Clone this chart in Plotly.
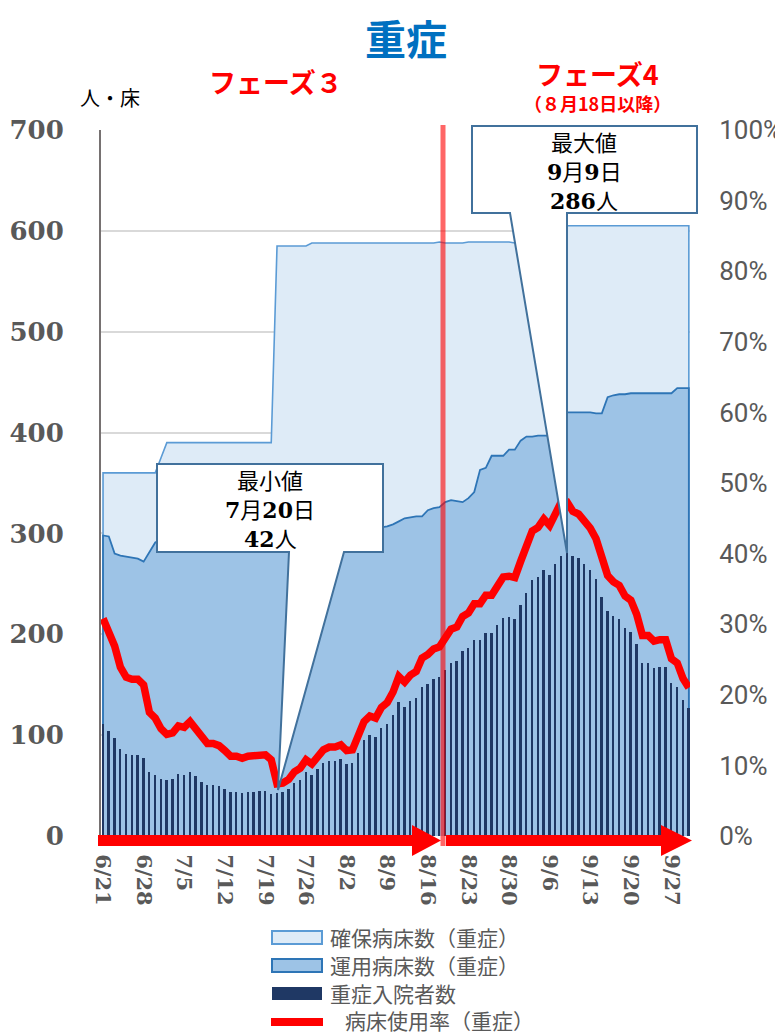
import plotly.graph_objects as go
import pandas as pd

# ---------------- data ----------------
dates = pd.date_range("2022-06-21", "2022-09-30", freq="D")
date_labels = [f"{d.month}/{d.day}" for d in dates]

tick_labels = ["6/21", "6/28", "7/5", "7/12", "7/19", "7/26", "8/2", "8/9",
               "8/16", "8/23", "8/30", "9/6", "9/13", "9/20", "9/27"]

# 確保病床数（重症）
secured_beds = [
    360, 360, 360, 360, 360, 360, 360, 360, 360, 360,
    375, 390, 390, 390, 390, 390, 390, 390, 390, 390,
    390, 390, 390, 390, 390, 390, 390, 390, 390, 390,
    585, 585, 585, 585, 585, 585, 588, 588, 588, 588,
    588, 588, 588, 588, 588, 588, 588, 588, 588, 588,
    588, 588, 588, 588, 588, 588, 588, 588, 589, 588,
    588, 588, 588, 589, 589, 589, 589, 589, 589, 589,
    589, 588, 588, 588, 588, 588, 588, 588, 588, 588,
    605, 605, 605, 605, 605, 605, 605, 605, 605, 605,
    605, 605, 605, 605, 605, 605, 605, 605, 605, 605,
    605, 605]

# 運用病床数（重症）
operating_beds = [
    298, 297, 280, 278, 277, 276, 275, 272, 281, 291,
    294, 296, 297, 298, 299, 300, 300, 300, 300, 300,
    300, 300, 300, 300, 300, 300, 300, 300, 300, 300,
    300, 301, 301, 302, 302, 302, 303, 303, 303, 304,
    304, 304, 305, 305, 305, 305, 306, 306, 306, 307,
    309, 312, 315, 316, 317, 317, 323, 325, 326, 331,
    333, 332, 331, 335, 341, 363, 365, 377, 377, 377,
    383, 383, 392, 396, 396, 397, 397, 397, 397, 398,
    420, 420, 420, 420, 420, 419, 419, 435, 437, 438,
    438, 439, 439, 439, 439, 439, 439, 439, 439, 444,
    444, 444]

# 重症入院者数
inpatients = [
    111, 104, 97, 86, 81, 80, 80, 77, 63, 60,
    57, 56, 57, 61, 60, 63, 59, 54, 51, 51,
    50, 47, 44, 44, 43, 44, 44, 45, 45, 42,
    43, 44, 47, 53, 56, 63, 60, 66, 72, 74,
    74, 76, 71, 72, 82, 95, 100, 98, 107, 111,
    120, 133, 128, 134, 137, 148, 151, 156, 158, 165,
    172, 174, 183, 186, 194, 194, 201, 201, 209, 216,
    217, 215, 229, 241, 254, 257, 264, 259, 270, 278,
    286, 278, 276, 270, 264, 255, 237, 223, 218, 215,
    206, 202, 190, 172, 172, 167, 168, 168, 152, 148,
    135, 127]

# 病床使用率（重症） %
usage_rate = [
    30.8, 28.9, 26.9, 23.9, 22.5, 22.2, 22.2, 21.4, 17.5, 16.7,
    15.2, 14.4, 14.6, 15.6, 15.4, 16.2, 15.1, 13.8, 13.1, 13.1,
    12.8, 12.1, 11.3, 11.3, 11.0, 11.3, 11.3, 11.5, 11.5, 10.8,
    7.4, 7.5, 8.0, 9.1, 9.6, 10.8, 10.2, 11.2, 12.2, 12.6,
    12.6, 12.9, 12.1, 12.2, 13.9, 16.2, 17.0, 16.7, 18.2, 18.9,
    20.4, 22.6, 21.8, 22.8, 23.3, 25.2, 25.7, 26.5, 26.8, 28.1,
    29.3, 29.6, 31.1, 31.6, 32.9, 32.9, 34.1, 34.1, 35.5, 36.7,
    36.8, 36.6, 38.9, 41.0, 43.2, 43.7, 44.9, 44.0, 45.9, 47.3,
    47.3, 46.0, 45.6, 44.6, 43.6, 42.1, 39.2, 36.9, 36.0, 35.5,
    34.0, 33.4, 31.4, 28.4, 28.4, 27.6, 27.8, 27.8, 25.1, 24.5,
    22.3, 21.0]

left_ticks = [0, 100, 200, 300, 400, 500, 600, 700]
right_ticks = list(range(0, 101, 10))

# ---------------- figure ----------------
OFF = 8                     # page body margin of the html page
W, H = 783 - OFF, 1034 - OFF
L, R, T, B = 101, 690, 130, 836   # plot area in page pixels


def px(x):
    return (x - L) / (R - L)


def py(y):
    return (B - y) / (B - T)


n = len(dates)
xs = list(range(n))
tick_pos = [date_labels.index(t) for t in tick_labels]

fig = go.Figure()

fig.add_trace(go.Scatter(
    x=[0] + xs + [n - 1], y=[0] + secured_beds + [0],
    mode="lines", fill="tozeroy", fillcolor="#DEEBF7",
    line=dict(color="#5B9BD5", width=1.6), name="確保病床数（重症）",
    showlegend=False, hoverinfo="skip"))

fig.add_trace(go.Scatter(
    x=[0] + xs + [n - 1], y=[0] + operating_beds + [0],
    mode="lines", fill="tozeroy", fillcolor="#9DC3E6",
    line=dict(color="#2E75B6", width=1.8), name="運用病床数（重症）",
    showlegend=False, hoverinfo="skip"))

fig.add_trace(go.Bar(
    x=xs, y=inpatients, yaxis="y2", width=0.34,
    marker=dict(color="#1F3864", line=dict(width=0)),
    name="重症入院者数", showlegend=False))

fig.add_trace(go.Scatter(
    x=xs, y=usage_rate, yaxis="y3", mode="lines",
    line=dict(color="#FF0000", width=7.5), name="病床使用率（重症）",
    showlegend=False))

serif_bold = dict(family="DejaVu Serif", size=21, color="#595959", weight="bold")

fig.update_layout(
    width=W, height=H, autosize=False,
    margin=dict(l=L - OFF, r=(W + OFF) - R, t=T - OFF, b=(H + OFF) - B, pad=0),
    paper_bgcolor="white", plot_bgcolor="white",
    bargap=0,
    xaxis=dict(range=[-0.35, 101.2], tickmode="array", tickvals=tick_pos,
               ticktext=tick_labels, tickangle=90, tickfont=serif_bold,
               showgrid=False, zeroline=False, showline=False, automargin=False,
               ticks="outside", ticklen=13, tickcolor="rgba(0,0,0,0)"),
    yaxis=dict(range=[0, 700], tickmode="array", tickvals=left_ticks,
               tickfont=dict(family="DejaVu Serif", size=26, color="#595959", weight="bold"),
               showgrid=True, gridcolor="#D9D9D9", gridwidth=1.5, automargin=False,
               zeroline=False, showline=True, linecolor="#767171", linewidth=2,
               ticks="outside", ticklen=30, tickcolor="rgba(0,0,0,0)"),
    yaxis2=dict(range=[0, 700], overlaying="y", visible=False, automargin=False),
    yaxis3=dict(range=[0, 100], overlaying="y", side="right",
                tickmode="array", tickvals=right_ticks,
                ticktext=[f"{v}%" for v in right_ticks],
                tickfont=dict(family="Roboto", size=26, color="#595959"),
                showgrid=False, zeroline=False, showline=False, automargin=False,
                ticks="outside", ticklen=23, tickcolor="rgba(0,0,0,0)"),
)


def path_of(pts):
    return "M " + " L ".join(f"{px(a):.5f},{py(b):.5f}" for a, b in pts) + " Z"


shapes = []
# callout 1 (minimum)
c1 = [(157, 464), (383, 464), (383, 552), (344, 552), (278, 790), (289, 552), (157, 552)]
shapes.append(dict(type="path", xref="paper", yref="paper", path=path_of(c1),
                   fillcolor="white", line=dict(color="#41719C", width=2), layer="above"))
# callout 2 (maximum)
c2 = [(472, 126), (697, 126), (697, 213), (567, 213), (567, 553), (510, 213), (472, 213)]
shapes.append(dict(type="path", xref="paper", yref="paper", path=path_of(c2),
                   fillcolor="white", line=dict(color="#41719C", width=2), layer="above"))
# phase boundary
shapes.append(dict(type="line", xref="paper", yref="paper",
                   x0=px(443), x1=px(443), y0=py(125), y1=py(846),
                   line=dict(color="rgba(255,0,0,0.6)", width=5), layer="above"))
# arrows
for x0, xh, xt in [(98, 412, 441), (446, 661, 692)]:
    pts = [(x0, 835), (xh, 835), (xh, 825), (xt, 840.5), (xh, 856), (xh, 846), (x0, 846)]
    shapes.append(dict(type="path", xref="paper", yref="paper", path=path_of(pts),
                       fillcolor="#FF0000", line=dict(width=0), layer="above"))
# legend symbols
shapes.append(dict(type="rect", xref="paper", yref="paper",
                   x0=px(272), x1=px(322), y0=py(944), y1=py(931),
                   fillcolor="#DEEBF7", line=dict(color="#5B9BD5", width=2)))
shapes.append(dict(type="rect", xref="paper", yref="paper",
                   x0=px(272), x1=px(322), y0=py(972), y1=py(959),
                   fillcolor="#9DC3E6", line=dict(color="#2E75B6", width=2)))
shapes.append(dict(type="rect", xref="paper", yref="paper",
                   x0=px(272), x1=px(322), y0=py(1000), y1=py(987),
                   fillcolor="#1F3864", line=dict(width=0)))
shapes.append(dict(type="line", xref="paper", yref="paper",
                   x0=px(271), x1=px(323), y0=py(1022), y1=py(1022),
                   line=dict(color="#FF0000", width=8)))
fig.update_layout(shapes=shapes)

JP = "Noto Sans CJK JP"
SB = "font-family:DejaVu Serif;font-weight:bold"


def ann(x, y, text, size, color="black", weight="normal", xanchor="center", family=JP):
    return dict(x=px(x), y=py(y), xref="paper", yref="paper", text=text,
                showarrow=False, xanchor=xanchor, yanchor="middle",
                font=dict(family=family, size=size, color=color, weight=weight))


annotations = [
    ann(406, 37, "重症", 41, color="#0070C0", weight="bold"),
    ann(110, 97, "人・床", 20),
    ann(276, 82, "フェーズ３", 27, color="#FF0000", weight="bold"),
    ann(597, 74, "フェーズ4", 27, color="#FF0000", weight="bold"),
    ann(597, 103, "（８月18日以降）", 18, color="#FF0000", weight="bold"),
    ann(270, 479, "最小値", 22),
    ann(270, 508, f"<span style='{SB}'>7</span>月<span style='{SB}'>20</span>日", 22),
    ann(270, 537, f"<span style='{SB}'>42</span>人", 22),
    ann(584, 141, "最大値", 22),
    ann(584, 170, f"<span style='{SB}'>9</span>月<span style='{SB}'>9</span>日", 22),
    ann(584, 199, f"<span style='{SB}'>286</span>人", 22),
    ann(328, 937, "確保病床数（重症）", 21, color="#595959", xanchor="left"),
    ann(328, 965, "運用病床数（重症）", 21, color="#595959", xanchor="left"),
    ann(328, 993, "重症入院者数", 21, color="#595959", xanchor="left"),
    ann(343, 1020, "病床使用率（重症）", 21, color="#595959", xanchor="left"),
]
fig.update_layout(annotations=annotations)

fig.write_html("out.html")
